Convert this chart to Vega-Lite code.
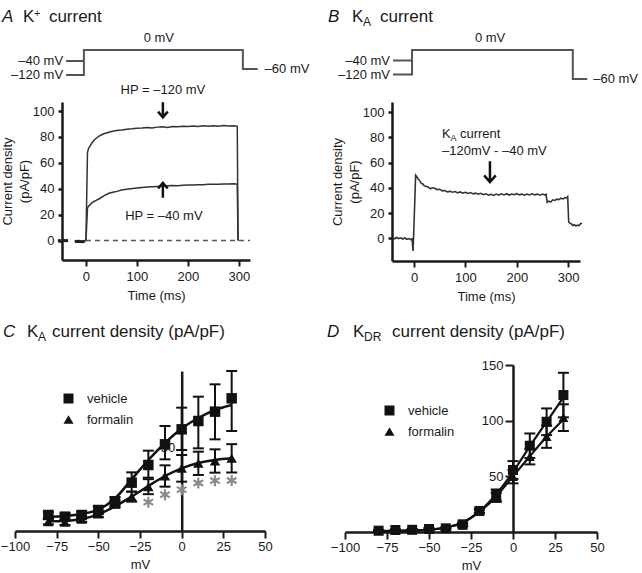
{
  "$schema": "https://vega.github.io/schema/vega-lite/v6.json",
  "padding": {"left": 0, "top": 8, "right": 0, "bottom": 0},
  "bounds": "flush",
  "columns": 2,
  "align": "each",
  "spacing": {"row": 104, "column": 80},
  "config": {
    "font": "Liberation Sans",
    "view": {"stroke": null},
    "axis": {"grid": false, "labelFontSize": 13, "titleFontSize": 13, "titleFontWeight": "normal", "domainColor": "#1a1a1a", "tickColor": "#1a1a1a", "labelColor": "#1a1a1a", "titleColor": "#1a1a1a", "domainWidth": 2.5, "tickWidth": 2, "labelFont": "Liberation Sans", "titleFont": "Liberation Sans", "labelOverlap": false, "labelFlush": false},
    "text": {"font": "Liberation Sans", "fontSize": 13, "color": "#1a1a1a"}
  },
  "datasets": {
    "protoA": [
      {"i": 1, "hp": "a", "t": -39, "v": -120}, {"i": 2, "hp": "a", "t": -4, "v": -120}, {"i": 3, "hp": "a", "t": -4, "v": 0}, {"i": 4, "hp": "a", "t": 308, "v": 0}, {"i": 5, "hp": "a", "t": 308, "v": -60}, {"i": 6, "hp": "a", "t": 337, "v": -60},
      {"i": 1, "hp": "b", "t": -39, "v": -40}, {"i": 2, "hp": "b", "t": -4, "v": -40}
    ],
    "protoB": [
      {"i": 1, "hp": "a", "t": -41, "v": -120}, {"i": 2, "hp": "a", "t": -4, "v": -120}, {"i": 3, "hp": "a", "t": -4, "v": 0}, {"i": 4, "hp": "a", "t": 309, "v": 0}, {"i": 5, "hp": "a", "t": 309, "v": -60}, {"i": 6, "hp": "a", "t": 337, "v": -60},
      {"i": 1, "hp": "b", "t": -41, "v": -40}, {"i": 2, "hp": "b", "t": -4, "v": -40}
    ],
    "traceA": [
      {"trace": "base1", "t": -55, "cd": 0.3}, {"trace": "base1", "t": -50, "cd": -0.3}, {"trace": "base1", "t": -45, "cd": 0.2}, {"trace": "base1", "t": -40, "cd": -0.2}, {"trace": "base1", "t": -35, "cd": 0},
      {"trace": "base2", "t": -22, "cd": -0.8}, {"trace": "base2", "t": -15, "cd": -0.5}, {"trace": "base2", "t": -8, "cd": -0.9}, {"trace": "base2", "t": -2, "cd": -0.6},
      {"trace": "hp120", "t": 0, "cd": -0.5}, {"trace": "hp120", "t": 3, "cd": 68}, {"trace": "hp120", "t": 5, "cd": 71}, {"trace": "hp120", "t": 8, "cd": 73}, {"trace": "hp120", "t": 12, "cd": 75.5}, {"trace": "hp120", "t": 16, "cd": 77.5}, {"trace": "hp120", "t": 20, "cd": 79}, {"trace": "hp120", "t": 25, "cd": 80.5}, {"trace": "hp120", "t": 30, "cd": 81.5}, {"trace": "hp120", "t": 35, "cd": 82.5}, {"trace": "hp120", "t": 40, "cd": 83}, {"trace": "hp120", "t": 50, "cd": 84.2}, {"trace": "hp120", "t": 60, "cd": 85}, {"trace": "hp120", "t": 70, "cd": 85.4}, {"trace": "hp120", "t": 80, "cd": 86}, {"trace": "hp120", "t": 90, "cd": 86.3}, {"trace": "hp120", "t": 100, "cd": 86.8}, {"trace": "hp120", "t": 110, "cd": 87}, {"trace": "hp120", "t": 120, "cd": 87.3}, {"trace": "hp120", "t": 130, "cd": 87}, {"trace": "hp120", "t": 140, "cd": 87.6}, {"trace": "hp120", "t": 150, "cd": 87.8}, {"trace": "hp120", "t": 160, "cd": 87.4}, {"trace": "hp120", "t": 170, "cd": 88}, {"trace": "hp120", "t": 180, "cd": 87.8}, {"trace": "hp120", "t": 190, "cd": 88.3}, {"trace": "hp120", "t": 200, "cd": 88}, {"trace": "hp120", "t": 210, "cd": 88.4}, {"trace": "hp120", "t": 220, "cd": 88.1}, {"trace": "hp120", "t": 230, "cd": 88.6}, {"trace": "hp120", "t": 240, "cd": 88.2}, {"trace": "hp120", "t": 250, "cd": 88.7}, {"trace": "hp120", "t": 260, "cd": 88.3}, {"trace": "hp120", "t": 270, "cd": 88.8}, {"trace": "hp120", "t": 280, "cd": 88.4}, {"trace": "hp120", "t": 290, "cd": 88.6}, {"trace": "hp120", "t": 297, "cd": 88.2}, {"trace": "hp120", "t": 298.5, "cd": 0},
      {"trace": "hp40", "t": 0, "cd": -0.5}, {"trace": "hp40", "t": 3, "cd": 25}, {"trace": "hp40", "t": 5, "cd": 26.5}, {"trace": "hp40", "t": 10, "cd": 28.5}, {"trace": "hp40", "t": 15, "cd": 30}, {"trace": "hp40", "t": 20, "cd": 31}, {"trace": "hp40", "t": 27, "cd": 32.5}, {"trace": "hp40", "t": 35, "cd": 34.5}, {"trace": "hp40", "t": 45, "cd": 36.5}, {"trace": "hp40", "t": 55, "cd": 37.5}, {"trace": "hp40", "t": 61, "cd": 38}, {"trace": "hp40", "t": 70, "cd": 39}, {"trace": "hp40", "t": 80, "cd": 39.6}, {"trace": "hp40", "t": 92, "cd": 40.2}, {"trace": "hp40", "t": 100, "cd": 40.6}, {"trace": "hp40", "t": 110, "cd": 41}, {"trace": "hp40", "t": 120, "cd": 41.3}, {"trace": "hp40", "t": 130, "cd": 41.6}, {"trace": "hp40", "t": 140, "cd": 41.8}, {"trace": "hp40", "t": 150, "cd": 42}, {"trace": "hp40", "t": 160, "cd": 42.3}, {"trace": "hp40", "t": 170, "cd": 42.5}, {"trace": "hp40", "t": 180, "cd": 42.4}, {"trace": "hp40", "t": 190, "cd": 42.8}, {"trace": "hp40", "t": 200, "cd": 42.9}, {"trace": "hp40", "t": 210, "cd": 43}, {"trace": "hp40", "t": 220, "cd": 43.2}, {"trace": "hp40", "t": 230, "cd": 43.1}, {"trace": "hp40", "t": 240, "cd": 43.4}, {"trace": "hp40", "t": 250, "cd": 43.5}, {"trace": "hp40", "t": 260, "cd": 43.4}, {"trace": "hp40", "t": 270, "cd": 43.7}, {"trace": "hp40", "t": 280, "cd": 43.6}, {"trace": "hp40", "t": 290, "cd": 43.8}, {"trace": "hp40", "t": 297, "cd": 43.6}, {"trace": "hp40", "t": 298.5, "cd": 0}
    ],
    "traceB": [
      {"t": -42, "cd": 0.5}, {"t": -38, "cd": -0.4}, {"t": -34, "cd": 0.6}, {"t": -30, "cd": -0.2}, {"t": -26, "cd": 0.4}, {"t": -22, "cd": -0.6}, {"t": -18, "cd": 0.2}, {"t": -14, "cd": -0.8}, {"t": -10, "cd": -0.2}, {"t": -7, "cd": -1}, {"t": -4, "cd": -0.5}, {"t": -2, "cd": -10}, {"t": 1, "cd": 25}, {"t": 3, "cd": 50}, {"t": 5, "cd": 49}, {"t": 8, "cd": 47}, {"t": 11, "cd": 45.5}, {"t": 14, "cd": 43.5}, {"t": 17, "cd": 43}, {"t": 20, "cd": 41.5}, {"t": 24, "cd": 41}, {"t": 28, "cd": 40.5}, {"t": 32, "cd": 39.2}, {"t": 36, "cd": 40}, {"t": 40, "cd": 39.7}, {"t": 45, "cd": 38.6}, {"t": 50, "cd": 38.8}, {"t": 55, "cd": 37.6}, {"t": 60, "cd": 37.9}, {"t": 65, "cd": 36.8}, {"t": 70, "cd": 37.2}, {"t": 75, "cd": 36.5}, {"t": 80, "cd": 37}, {"t": 85, "cd": 36}, {"t": 90, "cd": 36.7}, {"t": 95, "cd": 35.8}, {"t": 100, "cd": 36.4}, {"t": 105, "cd": 35.5}, {"t": 110, "cd": 36.2}, {"t": 115, "cd": 35.2}, {"t": 120, "cd": 35.8}, {"t": 125, "cd": 34.9}, {"t": 130, "cd": 35.6}, {"t": 135, "cd": 34.5}, {"t": 140, "cd": 35.2}, {"t": 145, "cd": 34.2}, {"t": 150, "cd": 34.9}, {"t": 155, "cd": 34}, {"t": 160, "cd": 35}, {"t": 165, "cd": 34.2}, {"t": 170, "cd": 35.2}, {"t": 175, "cd": 34.4}, {"t": 180, "cd": 35.3}, {"t": 185, "cd": 34.3}, {"t": 190, "cd": 35.1}, {"t": 195, "cd": 34.5}, {"t": 200, "cd": 35.3}, {"t": 205, "cd": 34.4}, {"t": 210, "cd": 35}, {"t": 215, "cd": 34.2}, {"t": 220, "cd": 35.1}, {"t": 225, "cd": 34.3}, {"t": 230, "cd": 35.2}, {"t": 235, "cd": 34.4}, {"t": 240, "cd": 35}, {"t": 245, "cd": 34.2}, {"t": 250, "cd": 35}, {"t": 254, "cd": 34.4}, {"t": 257, "cd": 34.8}, {"t": 259, "cd": 28.5}, {"t": 262, "cd": 29.5}, {"t": 266, "cd": 28.8}, {"t": 270, "cd": 30.5}, {"t": 274, "cd": 30}, {"t": 278, "cd": 31}, {"t": 282, "cd": 30.6}, {"t": 286, "cd": 31.8}, {"t": 290, "cd": 31.2}, {"t": 294, "cd": 32.3}, {"t": 297, "cd": 32}, {"t": 299, "cd": 33}, {"t": 301, "cd": 13}, {"t": 303, "cd": 12}, {"t": 306, "cd": 11.5}, {"t": 309, "cd": 10.2}, {"t": 312, "cd": 10.8}, {"t": 315, "cd": 9.8}, {"t": 318, "cd": 10.5}, {"t": 321, "cd": 10}, {"t": 324, "cd": 11.5}, {"t": 327, "cd": 12}
    ],
    "ivC": [
      {"group": "formalin", "mv": -80, "m": 5.6, "lo": 4, "hi": 7.2, "sig": false},
      {"group": "formalin", "mv": -70, "m": 5.2, "lo": 3.6, "hi": 6.8, "sig": false},
      {"group": "formalin", "mv": -60, "m": 7, "lo": 5.4, "hi": 8.6, "sig": false},
      {"group": "formalin", "mv": -50, "m": 10.2, "lo": 8.4, "hi": 12, "sig": false},
      {"group": "formalin", "mv": -40, "m": 16.2, "lo": 14, "hi": 18.4, "sig": false},
      {"group": "formalin", "mv": -30, "m": 20.6, "lo": 17.6, "hi": 23.6, "sig": false},
      {"group": "formalin", "mv": -20, "m": 26.6, "lo": 22.1, "hi": 31.1, "sig": true},
      {"group": "formalin", "mv": -10, "m": 33, "lo": 26.6, "hi": 39.4, "sig": true},
      {"group": "formalin", "mv": 0, "m": 37.6, "lo": 29.6, "hi": 45.6, "sig": true},
      {"group": "formalin", "mv": 10, "m": 40.6, "lo": 33.6, "hi": 47.6, "sig": true},
      {"group": "formalin", "mv": 20, "m": 42, "lo": 35, "hi": 49, "sig": true},
      {"group": "formalin", "mv": 30, "m": 43.6, "lo": 35.1, "hi": 52.1, "sig": true},
      {"group": "vehicle", "mv": -80, "m": 9.6, "lo": 7.6, "hi": 11.6, "sig": false},
      {"group": "vehicle", "mv": -70, "m": 8.6, "lo": 6.6, "hi": 10.6, "sig": false},
      {"group": "vehicle", "mv": -60, "m": 9.6, "lo": 7.6, "hi": 11.6, "sig": false},
      {"group": "vehicle", "mv": -50, "m": 12.6, "lo": 10.4, "hi": 14.8, "sig": false},
      {"group": "vehicle", "mv": -40, "m": 17.6, "lo": 14.8, "hi": 20.4, "sig": false},
      {"group": "vehicle", "mv": -30, "m": 29, "lo": 23.6, "hi": 35.2, "sig": false},
      {"group": "vehicle", "mv": -20, "m": 39.6, "lo": 32, "hi": 48.2, "sig": false},
      {"group": "vehicle", "mv": -10, "m": 52, "lo": 43, "hi": 63, "sig": false},
      {"group": "vehicle", "mv": 0, "m": 61, "lo": 48.6, "hi": 74, "sig": false},
      {"group": "vehicle", "mv": 10, "m": 66, "lo": 49.6, "hi": 80.6, "sig": false},
      {"group": "vehicle", "mv": 20, "m": 71.6, "lo": 55, "hi": 88, "sig": false},
      {"group": "vehicle", "mv": 30, "m": 79.6, "lo": 60, "hi": 96, "sig": false}
    ],
    "fitC": [
      {"group": "vehicle", "mv": -80, "cd": 8.6}, {"group": "vehicle", "mv": -70, "cd": 9}, {"group": "vehicle", "mv": -60, "cd": 10.2}, {"group": "vehicle", "mv": -50, "cd": 12.8}, {"group": "vehicle", "mv": -40, "cd": 19.5}, {"group": "vehicle", "mv": -30, "cd": 31}, {"group": "vehicle", "mv": -20, "cd": 42.6}, {"group": "vehicle", "mv": -10, "cd": 52.8}, {"group": "vehicle", "mv": 0, "cd": 61.5}, {"group": "vehicle", "mv": 10, "cd": 67.8}, {"group": "vehicle", "mv": 20, "cd": 72.6}, {"group": "vehicle", "mv": 30, "cd": 75.6},
      {"group": "formalin", "mv": -80, "cd": 5.8}, {"group": "formalin", "mv": -70, "cd": 6}, {"group": "formalin", "mv": -60, "cd": 7.2}, {"group": "formalin", "mv": -50, "cd": 10}, {"group": "formalin", "mv": -40, "cd": 14.8}, {"group": "formalin", "mv": -30, "cd": 20.6}, {"group": "formalin", "mv": -20, "cd": 27}, {"group": "formalin", "mv": -10, "cd": 33}, {"group": "formalin", "mv": 0, "cd": 37.6}, {"group": "formalin", "mv": 10, "cd": 40.8}, {"group": "formalin", "mv": 20, "cd": 42.6}, {"group": "formalin", "mv": 30, "cd": 43.6}
    ],
    "ivD": [
      {"group": "formalin", "mv": -80, "m": 1, "lo": 0.5, "hi": 1.5},
      {"group": "formalin", "mv": -70, "m": 1.5, "lo": 1, "hi": 2},
      {"group": "formalin", "mv": -60, "m": 1.8, "lo": 1.2, "hi": 2.4},
      {"group": "formalin", "mv": -50, "m": 2.5, "lo": 1.8, "hi": 3.2},
      {"group": "formalin", "mv": -40, "m": 3, "lo": 2.2, "hi": 3.8},
      {"group": "formalin", "mv": -30, "m": 6, "lo": 4.8, "hi": 7.2},
      {"group": "formalin", "mv": -20, "m": 18.5, "lo": 17, "hi": 20},
      {"group": "formalin", "mv": -10, "m": 31, "lo": 27, "hi": 35},
      {"group": "formalin", "mv": 0, "m": 49.7, "lo": 43.7, "hi": 55.7},
      {"group": "formalin", "mv": 10, "m": 67.7, "lo": 60.7, "hi": 74.7},
      {"group": "formalin", "mv": 20, "m": 85.6, "lo": 75.6, "hi": 95.6},
      {"group": "formalin", "mv": 30, "m": 102.7, "lo": 90.7, "hi": 114.7},
      {"group": "vehicle", "mv": -80, "m": 1.2, "lo": 0.7, "hi": 1.7},
      {"group": "vehicle", "mv": -70, "m": 1.8, "lo": 1.3, "hi": 2.3},
      {"group": "vehicle", "mv": -60, "m": 2, "lo": 1.4, "hi": 2.6},
      {"group": "vehicle", "mv": -50, "m": 2.7, "lo": 2, "hi": 3.4},
      {"group": "vehicle", "mv": -40, "m": 3.3, "lo": 2.5, "hi": 4.1},
      {"group": "vehicle", "mv": -30, "m": 6.9, "lo": 5.4, "hi": 8.4},
      {"group": "vehicle", "mv": -20, "m": 18.9, "lo": 16.9, "hi": 20.9},
      {"group": "vehicle", "mv": -10, "m": 33.2, "lo": 28.2, "hi": 38.2},
      {"group": "vehicle", "mv": 0, "m": 55.7, "lo": 47.7, "hi": 63.7},
      {"group": "vehicle", "mv": 10, "m": 77.5, "lo": 66.5, "hi": 88.5},
      {"group": "vehicle", "mv": 20, "m": 99, "lo": 87, "hi": 111},
      {"group": "vehicle", "mv": 30, "m": 123, "lo": 103, "hi": 143}
    ],
    "fitD": [
      {"group": "vehicle", "mv": -80, "cd": 0.8}, {"group": "vehicle", "mv": -70, "cd": 1}, {"group": "vehicle", "mv": -60, "cd": 1.4}, {"group": "vehicle", "mv": -50, "cd": 2.2}, {"group": "vehicle", "mv": -40, "cd": 4}, {"group": "vehicle", "mv": -30, "cd": 8.5}, {"group": "vehicle", "mv": -20, "cd": 18.5}, {"group": "vehicle", "mv": -10, "cd": 34}, {"group": "vehicle", "mv": 0, "cd": 54}, {"group": "vehicle", "mv": 10, "cd": 77}, {"group": "vehicle", "mv": 20, "cd": 99}, {"group": "vehicle", "mv": 30, "cd": 121},
      {"group": "formalin", "mv": -80, "cd": 0.8}, {"group": "formalin", "mv": -70, "cd": 1}, {"group": "formalin", "mv": -60, "cd": 1.4}, {"group": "formalin", "mv": -50, "cd": 2.2}, {"group": "formalin", "mv": -40, "cd": 4}, {"group": "formalin", "mv": -30, "cd": 8.3}, {"group": "formalin", "mv": -20, "cd": 18}, {"group": "formalin", "mv": -10, "cd": 32}, {"group": "formalin", "mv": 0, "cd": 50}, {"group": "formalin", "mv": 10, "cd": 68}, {"group": "formalin", "mv": 20, "cd": 85.5}, {"group": "formalin", "mv": 30, "cd": 101}
    ]
  },
  "concat": [
    {
      "width": 235, "height": 158,
      "data": {"values": [{}]},
      "resolve": {"scale": {"y": "independent"}, "axis": {"y": "independent"}},
      "layer": [
        {
          "layer": [
            {"data": {"name": "traceA"}, "transform": [{"filter": "datum.trace == 'hp120' || datum.trace == 'hp40'"}],
             "mark": {"type": "line", "color": "#333", "strokeWidth": 1.5},
             "encoding": {"x": {"field": "t", "type": "quantitative", "scale": {"domain": [-47, 322], "range": [47, 235], "nice": false, "zero": false}, "axis": {"values": [0, 100, 200, 300], "tickCount": 10, "title": "Time (ms)", "tickSize": 6, "labelPadding": 4, "titlePadding": 6}},
                          "y": {"field": "cd", "type": "quantitative", "scale": {"domain": [-15, 107], "nice": false, "zero": false}, "axis": {"orient": "left", "values": [0, 20, 40, 60, 80, 100], "tickCount": 10, "labelOverlap": false, "title": ["Current density", "(pA/pF)"], "offset": -47, "tickSize": 4, "tickWidth": 2.5, "labelPadding": 4, "titlePadding": 1, "titleLineHeight": 17}},
                          "detail": {"field": "trace"}}},
            {"mark": {"type": "rule", "strokeDash": [5, 4], "color": "#555", "strokeWidth": 1.5}, "encoding": {"x": {"datum": 0}, "x2": {"datum": 322}, "y": {"datum": 0}}},
            {"data": {"name": "traceA"}, "transform": [{"filter": "datum.trace == 'base1' || datum.trace == 'base2'"}],
             "mark": {"type": "line", "color": "#222", "strokeWidth": 3},
             "encoding": {"x": {"field": "t", "type": "quantitative"}, "y": {"field": "cd", "type": "quantitative"}, "detail": {"field": "trace"}}},
            {"mark": {"type": "point", "shape": "M0,-1L0,1M-0.65,0.25L0,1L0.65,0.25", "filled": false, "color": "#111", "strokeWidth": 2.5, "size": 225, "opacity": 1}, "encoding": {"x": {"datum": 151}, "y": {"datum": 101}}},
            {"mark": {"type": "point", "shape": "M0,1L0,-1M-0.65,-0.25L0,-1L0.65,-0.25", "filled": false, "color": "#111", "strokeWidth": 2.5, "size": 225, "opacity": 1}, "encoding": {"x": {"datum": 151}, "y": {"datum": 38.8}}},
            {"mark": {"type": "text", "text": "HP = –120 mV", "align": "center", "baseline": "middle"}, "encoding": {"x": {"datum": 151}, "y": {"datum": 116}}},
            {"mark": {"type": "text", "text": "HP = –40 mV", "align": "center", "baseline": "middle"}, "encoding": {"x": {"datum": 153}, "y": {"datum": 19}}}
          ]
        },
        {
          "layer": [
            {"data": {"name": "protoA"}, "mark": {"type": "line", "color": "#555", "strokeWidth": 2},
             "encoding": {"x": {"field": "t", "type": "quantitative", "scale": {"domain": [-47, 322], "range": [47, 235], "nice": false, "zero": false}},
                          "y": {"field": "v", "type": "quantitative", "scale": {"domain": [-120, -60, -40, 0], "range": [-27, -33, -41, -52], "nice": false, "zero": false}, "axis": null},
                          "detail": {"field": "hp"}, "order": {"field": "i"}}},
            {"mark": {"type": "text", "text": "–40 mV", "align": "right", "baseline": "middle", "dx": -3}, "encoding": {"x": {"datum": -39}, "y": {"datum": -40, "axis": null}}},
            {"mark": {"type": "text", "text": "–120 mV", "align": "right", "baseline": "middle", "dx": -3}, "encoding": {"x": {"datum": -39}, "y": {"datum": -120, "axis": null}}},
            {"mark": {"type": "text", "text": "–60 mV", "align": "left", "baseline": "middle", "dx": 7}, "encoding": {"x": {"datum": 337}, "y": {"datum": -60, "axis": null}}},
            {"mark": {"type": "text", "text": "0 mV", "align": "center", "baseline": "middle", "dy": -12}, "encoding": {"x": {"datum": 143}, "y": {"datum": 0, "axis": null}}},
            {"mark": {"type": "text", "text": "A", "fontStyle": "italic", "fontSize": 17, "align": "left", "baseline": "alphabetic", "dy": -28}, "encoding": {"x": {"datum": -165}, "y": {"datum": 0, "axis": null}}},
            {"mark": {"type": "text", "text": "K", "fontSize": 17, "align": "left", "baseline": "alphabetic", "dx": 21, "dy": -28}, "encoding": {"x": {"datum": -165}, "y": {"datum": 0, "axis": null}}},
            {"mark": {"type": "text", "text": "+", "fontSize": 11, "align": "left", "baseline": "alphabetic", "dx": 32, "dy": -33}, "encoding": {"x": {"datum": -165}, "y": {"datum": 0, "axis": null}}},
            {"mark": {"type": "text", "text": "current", "fontSize": 17, "align": "left", "baseline": "alphabetic", "dx": 47, "dy": -28}, "encoding": {"x": {"datum": -165}, "y": {"datum": 0, "axis": null}}}
          ]
        }
      ]
    },
    {
      "width": 235, "height": 159,
      "data": {"values": [{}]},
      "resolve": {"scale": {"y": "independent"}, "axis": {"y": "independent"}},
      "layer": [
        {
          "layer": [
            {"data": {"name": "traceB"}, "mark": {"type": "line", "color": "#333", "strokeWidth": 1.6},
             "encoding": {"x": {"field": "t", "type": "quantitative", "scale": {"domain": [-43, 323], "range": [47, 235], "nice": false, "zero": false}, "axis": {"values": [0, 100, 200, 300], "tickCount": 10, "title": "Time (ms)", "tickSize": 6, "labelPadding": 4, "titlePadding": 6}},
                          "y": {"field": "cd", "type": "quantitative", "scale": {"domain": [-18, 108], "nice": false, "zero": false}, "axis": {"orient": "left", "values": [0, 20, 40, 60, 80, 100], "tickCount": 10, "labelOverlap": false, "title": ["Current density", "(pA/pF)"], "offset": -47, "tickSize": 4, "tickWidth": 2.5, "labelPadding": 4, "titlePadding": 1, "titleLineHeight": 17}}}},
            {"mark": {"type": "point", "shape": "M0,-1L0,1M-0.55,0.35L0,1L0.55,0.35", "filled": false, "color": "#111", "strokeWidth": 2.5, "size": 441, "opacity": 1}, "encoding": {"x": {"datum": 147.7}, "y": {"datum": 52.8}}},
            {"mark": {"type": "text", "text": "K", "align": "left", "baseline": "middle"}, "encoding": {"x": {"datum": 54.3}, "y": {"datum": 82.5}}},
            {"mark": {"type": "text", "text": "A", "fontSize": 9, "align": "left", "baseline": "middle", "dx": 8.5, "dy": 4}, "encoding": {"x": {"datum": 54.3}, "y": {"datum": 82.5}}},
            {"mark": {"type": "text", "text": "current", "align": "left", "baseline": "middle", "dx": 18}, "encoding": {"x": {"datum": 54.3}, "y": {"datum": 82.5}}},
            {"mark": {"type": "text", "text": "–120mV - –40 mV", "align": "left", "baseline": "middle"}, "encoding": {"x": {"datum": 54.3}, "y": {"datum": 69}}}
          ]
        },
        {
          "layer": [
            {"data": {"name": "protoB"}, "mark": {"type": "line", "color": "#555", "strokeWidth": 2},
             "encoding": {"x": {"field": "t", "type": "quantitative", "scale": {"domain": [-43, 323], "range": [47, 235], "nice": false, "zero": false}},
                          "y": {"field": "v", "type": "quantitative", "scale": {"domain": [-120, -60, -40, 0], "range": [-27.5, -23, -41.5, -52], "nice": false, "zero": false}, "axis": null},
                          "detail": {"field": "hp"}, "order": {"field": "i"}}},
            {"mark": {"type": "text", "text": "–40 mV", "align": "right", "baseline": "middle", "dx": -3}, "encoding": {"x": {"datum": -41}, "y": {"datum": -40, "axis": null}}},
            {"mark": {"type": "text", "text": "–120 mV", "align": "right", "baseline": "middle", "dx": -3}, "encoding": {"x": {"datum": -41}, "y": {"datum": -120, "axis": null}}},
            {"mark": {"type": "text", "text": "–60 mV", "align": "left", "baseline": "middle", "dx": 6}, "encoding": {"x": {"datum": 337}, "y": {"datum": -60, "axis": null}}},
            {"mark": {"type": "text", "text": "0 mV", "align": "center", "baseline": "middle", "dy": -12}, "encoding": {"x": {"datum": 148}, "y": {"datum": 0, "axis": null}}},
            {"mark": {"type": "text", "text": "B", "fontStyle": "italic", "fontSize": 17, "align": "left", "baseline": "alphabetic", "dy": -28}, "encoding": {"x": {"datum": -167.6}, "y": {"datum": 0, "axis": null}}},
            {"mark": {"type": "text", "text": "K", "fontSize": 17, "align": "left", "baseline": "alphabetic", "dx": 24, "dy": -28}, "encoding": {"x": {"datum": -167.6}, "y": {"datum": 0, "axis": null}}},
            {"mark": {"type": "text", "text": "A", "fontSize": 12, "align": "left", "baseline": "alphabetic", "dx": 35, "dy": -24}, "encoding": {"x": {"datum": -167.6}, "y": {"datum": 0, "axis": null}}},
            {"mark": {"type": "text", "text": "current", "fontSize": 17, "align": "left", "baseline": "alphabetic", "dx": 52, "dy": -28}, "encoding": {"x": {"datum": -167.6}, "y": {"datum": 0, "axis": null}}}
          ]
        }
      ]
    },
    {
      "width": 250, "height": 166,
      "data": {"values": [{}]},
      "layer": [
        {"data": {"name": "fitC"}, "mark": {"type": "line", "color": "#111", "strokeWidth": 2.5, "interpolate": "monotone"},
         "encoding": {"x": {"field": "mv", "type": "quantitative", "scale": {"domain": [-100, 50], "nice": false, "zero": false}, "axis": {"values": [-100, -75, -50, -25, 0, 25, 50], "tickCount": 10, "labelFlush": false, "title": "mV", "tickSize": 7, "labelPadding": 2, "titlePadding": 5}},
                      "y": {"field": "cd", "type": "quantitative", "scale": {"domain": [0, 96], "range": [166, 6], "nice": false}, "axis": {"values": [50], "title": null, "offset": -166.7, "tickSize": 0, "labelPadding": 7}},
                      "detail": {"field": "group"}}},
        {"data": {"name": "ivC"}, "mark": {"type": "rule", "color": "#111", "strokeWidth": 2},
         "encoding": {"x": {"field": "mv", "type": "quantitative"}, "y": {"field": "lo", "type": "quantitative"}, "y2": {"field": "hi"}}},
        {"data": {"name": "ivC"}, "mark": {"type": "tick", "orient": "horizontal", "color": "#111", "size": 11, "thickness": 2, "opacity": 1},
         "encoding": {"x": {"field": "mv", "type": "quantitative"}, "y": {"field": "hi", "type": "quantitative"}}},
        {"data": {"name": "ivC"}, "mark": {"type": "tick", "orient": "horizontal", "color": "#111", "size": 11, "thickness": 2, "opacity": 1},
         "encoding": {"x": {"field": "mv", "type": "quantitative"}, "y": {"field": "lo", "type": "quantitative"}}},
        {"data": {"name": "ivC"}, "transform": [{"filter": "datum.sig"}],
         "mark": {"type": "point", "shape": "M0,0.45L0,2.45M-0.87,0.95L0.87,1.95M-0.87,1.95L0.87,0.95", "filled": false, "color": "#8a8a8a", "strokeWidth": 2.2, "size": 121, "opacity": 1},
         "encoding": {"x": {"field": "mv", "type": "quantitative"}, "y": {"field": "lo", "type": "quantitative"}}},
        {"data": {"name": "ivC"}, "mark": {"type": "point", "filled": true, "color": "#111", "size": 110, "opacity": 1},
         "encoding": {"x": {"field": "mv", "type": "quantitative"}, "y": {"field": "m", "type": "quantitative"},
                      "shape": {"field": "group", "type": "nominal", "scale": {"domain": ["vehicle", "formalin"], "range": ["square", "triangle-up"]},
                                "legend": {"orient": "none", "legendX": 47, "legendY": 27, "title": null, "padding": 0, "labelFontSize": 13, "labelColor": "#1a1a1a", "symbolSize": 100, "symbolFillColor": "#111", "symbolStrokeColor": "#111", "symbolStrokeWidth": 0, "labelOffset": 12, "rowPadding": 7}}}},
        {"mark": {"type": "text", "text": "C", "fontStyle": "italic", "fontSize": 17, "align": "left", "baseline": "alphabetic", "dy": -34}, "encoding": {"x": {"datum": -107.2}, "y": {"datum": 96}}},
        {"mark": {"type": "text", "text": "K", "fontSize": 17, "align": "left", "baseline": "alphabetic", "dx": 24, "dy": -34}, "encoding": {"x": {"datum": -107.2}, "y": {"datum": 96}}},
        {"mark": {"type": "text", "text": "A", "fontSize": 12, "align": "left", "baseline": "alphabetic", "dx": 35, "dy": -30.5}, "encoding": {"x": {"datum": -107.2}, "y": {"datum": 96}}},
        {"mark": {"type": "text", "text": "current density (pA/pF)", "fontSize": 17, "align": "left", "baseline": "alphabetic", "dx": 49, "dy": -34}, "encoding": {"x": {"datum": -107.2}, "y": {"datum": 96}}}
      ]
    },
    {
      "width": 252, "height": 167,
      "data": {"values": [{}]},
      "layer": [
        {"data": {"name": "fitD"}, "mark": {"type": "line", "color": "#111", "strokeWidth": 2.2, "interpolate": "monotone"},
         "encoding": {"x": {"field": "mv", "type": "quantitative", "scale": {"domain": [-100, 50], "nice": false, "zero": false}, "axis": {"values": [-100, -75, -50, -25, 0, 25, 50], "tickCount": 10, "labelFlush": false, "title": "mV", "tickSize": 7, "labelPadding": 2, "titlePadding": 5}},
                      "y": {"field": "cd", "type": "quantitative", "scale": {"domain": [0, 150], "nice": false}, "axis": {"values": [50, 100, 150], "title": null, "offset": -168, "tickSize": 8, "labelPadding": 2}},
                      "detail": {"field": "group"}}},
        {"data": {"name": "ivD"}, "mark": {"type": "rule", "color": "#111", "strokeWidth": 2},
         "encoding": {"x": {"field": "mv", "type": "quantitative"}, "y": {"field": "lo", "type": "quantitative"}, "y2": {"field": "hi"}}},
        {"data": {"name": "ivD"}, "mark": {"type": "tick", "orient": "horizontal", "color": "#111", "size": 11, "thickness": 2, "opacity": 1},
         "encoding": {"x": {"field": "mv", "type": "quantitative"}, "y": {"field": "hi", "type": "quantitative"}}},
        {"data": {"name": "ivD"}, "mark": {"type": "tick", "orient": "horizontal", "color": "#111", "size": 11, "thickness": 2, "opacity": 1},
         "encoding": {"x": {"field": "mv", "type": "quantitative"}, "y": {"field": "lo", "type": "quantitative"}}},
        {"data": {"name": "ivD"}, "mark": {"type": "point", "filled": true, "color": "#111", "size": 100, "opacity": 1},
         "encoding": {"x": {"field": "mv", "type": "quantitative"}, "y": {"field": "m", "type": "quantitative"},
                      "shape": {"field": "group", "type": "nominal", "scale": {"domain": ["vehicle", "formalin"], "range": ["square", "triangle-up"]},
                                "legend": {"orient": "none", "legendX": 38, "legendY": 39, "title": null, "padding": 0, "labelFontSize": 13, "labelColor": "#1a1a1a", "symbolSize": 100, "symbolFillColor": "#111", "symbolStrokeColor": "#111", "symbolStrokeWidth": 0, "labelOffset": 12, "rowPadding": 7}}}},
        {"mark": {"type": "text", "text": "D", "fontStyle": "italic", "fontSize": 17, "align": "left", "baseline": "alphabetic", "dy": -28}, "encoding": {"x": {"datum": -110.7}, "y": {"datum": 150}}},
        {"mark": {"type": "text", "text": "K", "fontSize": 17, "align": "left", "baseline": "alphabetic", "dx": 26, "dy": -28}, "encoding": {"x": {"datum": -110.7}, "y": {"datum": 150}}},
        {"mark": {"type": "text", "text": "DR", "fontSize": 12, "align": "left", "baseline": "alphabetic", "dx": 37, "dy": -24.5}, "encoding": {"x": {"datum": -110.7}, "y": {"datum": 150}}},
        {"mark": {"type": "text", "text": "current density (pA/pF)", "fontSize": 17, "align": "left", "baseline": "alphabetic", "dx": 65, "dy": -28}, "encoding": {"x": {"datum": -110.7}, "y": {"datum": 150}}}
      ]
    }
  ],
  "resolve": {"scale": {"shape": "independent"}, "legend": {"shape": "independent"}}
}
